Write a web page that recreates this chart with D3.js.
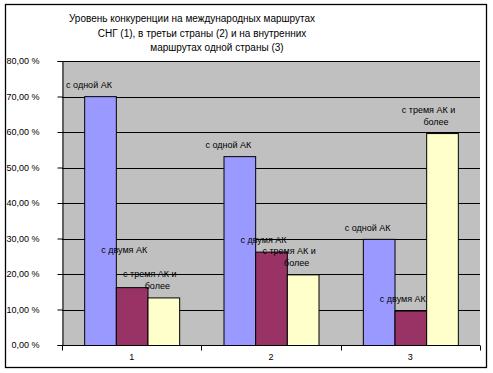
<!DOCTYPE html>
<html><head><meta charset="utf-8">
<script src="https://cdn.jsdelivr.net/npm/d3@7"></script>
<style>
html,body{margin:0;padding:0;background:#fff;}
svg text{font-family:Arial,"Liberation Sans",sans-serif;fill:#000;}
</style></head>
<body><svg id="c" width="493" height="373"></svg>
<script>
const categories = ["1", "2", "3"];
const seriesNames = ["с одной АК", "с двумя АК", "с тремя АК и более"];
const valuesOne = [70.1, 53.2, 29.9];
const valuesTwo = [16.3, 26.3, 9.7];
const valuesThree = [13.4, 19.9, 59.7];
const yTicks = [0, 10, 20, 30, 40, 50, 60, 70, 80];
const titleLines = ["Уровень конкуренции на международных маршрутах", "СНГ (1), в третьи страны (2) и на внутренних", "маршрутах одной страны (3)"];

const colors = ["#9999FF", "#993366", "#FFFFCC"];
const seriesValues = [valuesOne, valuesTwo, valuesThree];

const svg = d3.select("#c");
const W = 493, H = 373;
const plot = {x0: 62, x1: 480, y0: 61, y1: 345};

// chart frame
svg.append("rect").attr("x", 5.5).attr("y", 4.5).attr("width", 481).attr("height", 363)
  .attr("fill", "#fff").attr("stroke", "#000").attr("stroke-width", 1.3);

// title
const titleX = [192, 202, 217];
svg.append("g").selectAll("text").data(titleLines).join("text")
  .attr("x", (d, i) => titleX[i]).attr("y", (d, i) => 22 + i * 14.5)
  .attr("text-anchor", "middle").attr("font-size", "10px").text(d => d);

const x = d3.scaleBand().domain(categories).range([plot.x0, plot.x1]).paddingInner(0).paddingOuter(0);
const xs = d3.scaleBand().domain(d3.range(seriesNames.length)).range([0, x.bandwidth()]).paddingInner(0).paddingOuter(0.7);
const y = d3.scaleLinear().domain([0, 80]).range([plot.y1, plot.y0]);

// plot background
svg.append("rect").attr("x", plot.x0).attr("y", plot.y0).attr("width", plot.x1 - plot.x0).attr("height", plot.y1 - plot.y0)
  .attr("fill", "#C0C0C0");

// gridlines
svg.append("g").selectAll("line").data(yTicks.filter(t => t > 0)).join("line")
  .attr("x1", plot.x0).attr("x2", plot.x1)
  .attr("y1", d => Math.round(y(d)) + 0.5).attr("y2", d => Math.round(y(d)) + 0.5)
  .attr("stroke", "#000").attr("stroke-width", 1);

// bars
const barData = [];
seriesValues.forEach((vals, si) => vals.forEach((v, ci) => barData.push({si, ci, v})));
svg.append("g").selectAll("rect").data(barData).join("rect")
  .attr("x", d => x(categories[d.ci]) + xs(d.si) + 0.5)
  .attr("y", d => y(d.v) + 0.5)
  .attr("width", xs.bandwidth())
  .attr("height", d => y(0) - y(d.v))
  .attr("fill", d => colors[d.si]).attr("stroke", "#000").attr("stroke-width", 1);

// axes
const fmt = v => d3.format(".2f")(v).replace(".", ",") + " %";
const yAxis = svg.append("g").attr("transform", `translate(${plot.x0 + 0.5},0)`)
  .call(d3.axisLeft(y).tickValues(yTicks).tickSize(5).tickPadding(18).tickFormat(fmt));
yAxis.select(".domain").attr("stroke", "#000");
yAxis.selectAll("text").attr("font-size", "9px").attr("font-family", "Arial, 'Liberation Sans', sans-serif").attr("fill", "#000");

const xAxis = svg.append("g").attr("transform", `translate(0,${plot.y1 + 0.5})`)
  .call(d3.axisBottom(x).tickSize(0).tickPadding(8));
xAxis.select(".domain").attr("stroke", "#000").attr("d", `M${plot.x0},0H${plot.x1}`);
xAxis.selectAll("text").attr("font-size", "9px").attr("font-family", "Arial, 'Liberation Sans', sans-serif").attr("fill", "#000");
// category separators
xAxis.append("g").selectAll("line").data(categories.concat(["end"])).join("line")
  .attr("x1", (d, i) => Math.round(i < categories.length ? x(d) : plot.x1) + 0.5)
  .attr("x2", (d, i) => Math.round(i < categories.length ? x(d) : plot.x1) + 0.5)
  .attr("y1", 0).attr("y2", 5).attr("stroke", "#000");

// data labels (series names)
const labelDx = [-11, -7.5, -13.5];
const labelDy = [-11, -12, -24];
const labelNudge = {"1-0": -25};
const lg = svg.append("g").attr("font-size", "9px");
barData.forEach(d => {
  const cx = x(categories[d.ci]) + xs(d.si) + xs.bandwidth() / 2;
  const top = y(d.v) + (labelNudge[d.si + "-" + d.ci] || 0);
  if (d.si === 2) {
    const words = seriesNames[2].split(" ");
    const l1 = words.slice(0, 4).join(" "), l2 = words.slice(4).join(" ");
    lg.append("text").attr("x", cx - 13.5).attr("y", top - 23 + 3).attr("text-anchor", "middle").text(l1);
    lg.append("text").attr("x", cx - 6).attr("y", top - 11 + 3).attr("text-anchor", "middle").text(l2);
  } else {
    lg.append("text").attr("x", cx + labelDx[d.si]).attr("y", top + labelDy[d.si] + 3)
      .attr("text-anchor", "middle").text(seriesNames[d.si]);
  }
});
</script></body></html>
